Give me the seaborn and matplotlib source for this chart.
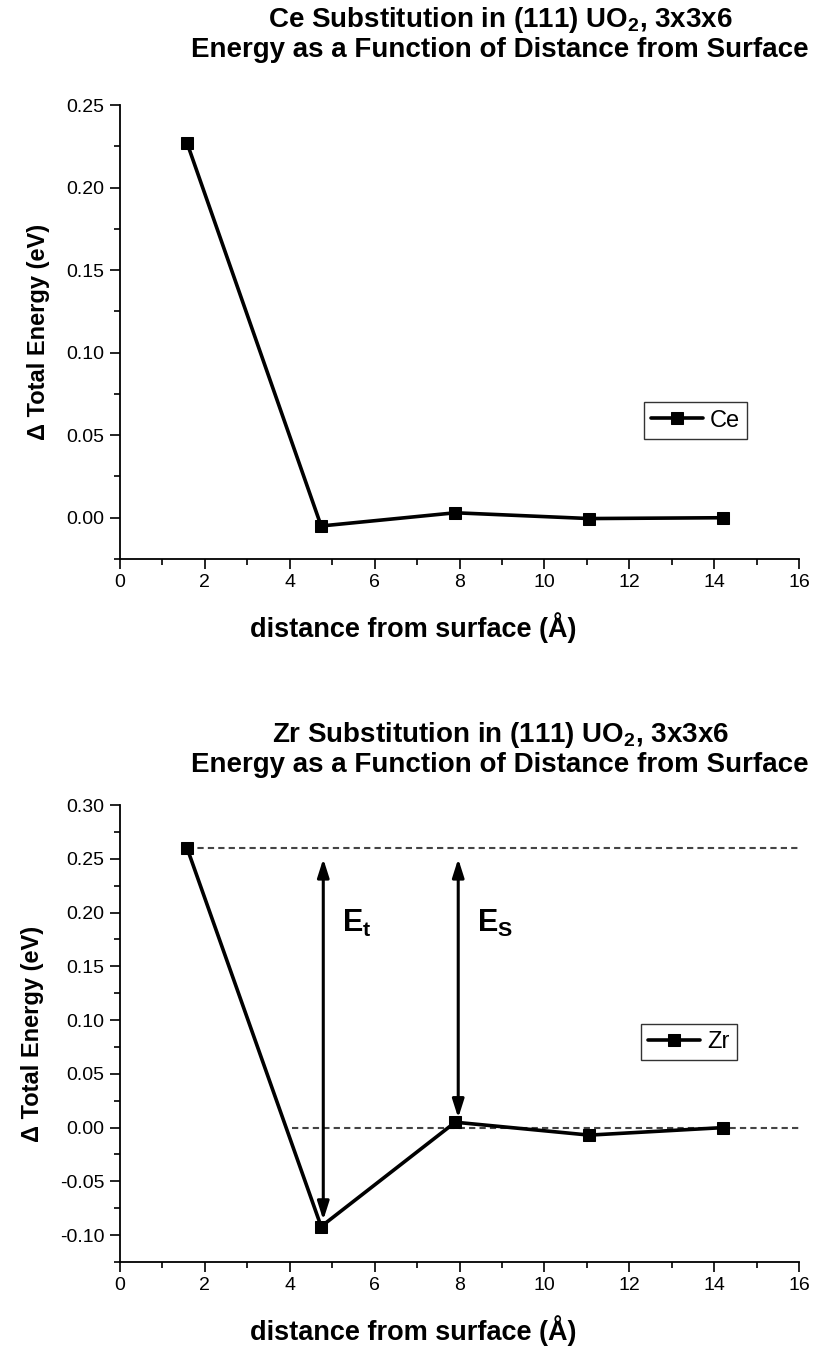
import numpy as np
import pandas as pd
import matplotlib
matplotlib.use("Agg")
import matplotlib.pyplot as plt
import seaborn as sns
from matplotlib.ticker import MultipleLocator

# ---- data ----
distance = [1.58, 4.74, 7.90, 11.06, 14.22]
ce_energy = [0.227, -0.005, 0.003, -0.0005, 0.0]
zr_energy = [0.260, -0.092, 0.005, -0.007, 0.000]

x_ticks = [0, 2, 4, 6, 8, 10, 12, 14, 16]
ce_yticks = [0.00, 0.05, 0.10, 0.15, 0.20, 0.25]
zr_yticks = [-0.10, -0.05, 0.00, 0.05, 0.10, 0.15, 0.20, 0.25, 0.30]

ce_title = [r"Ce Substitution in (111) UO$\mathbf{_2}$, 3x3x6",
            "Energy as a Function of Distance from Surface"]
zr_title = [r"Zr Substitution in (111) UO$\mathbf{_2}$, 3x3x6",
            "Energy as a Function of Distance from Surface"]
xlabel = "distance from surface (Å)"
ylabel = "Δ Total Energy (eV)"

# reference levels / arrows for Zr panel
zr_top_level = 0.260
zr_zero_level = 0.0
zr_zero_start = 4.06
arrow_t = dict(x=4.79, y0=0.250, y1=-0.086, label=r"$\mathbf{E_t}$")
arrow_s = dict(x=7.97, y0=0.250, y1=0.009, label=r"$\mathbf{E_S}$")

sns.set_style("ticks")
plt.rcParams["font.family"] = ["Liberation Sans", "DejaVu Sans"]
plt.rcParams["mathtext.fontset"] = "custom"
plt.rcParams["mathtext.rm"] = "Liberation Sans"
plt.rcParams["mathtext.bf"] = "Liberation Sans:bold"
plt.rcParams["mathtext.it"] = "Liberation Sans:italic"
plt.rcParams["text.color"] = "black"
plt.rcParams["axes.labelcolor"] = "black"
plt.rcParams["xtick.color"] = "black"
plt.rcParams["ytick.color"] = "black"

fig = plt.figure(figsize=(8.16, 13.51), dpi=100)
W, H = 816, 1351
ax1 = fig.add_axes([120 / W, 1 - 559 / H, 679 / W, 454 / H])
ax2 = fig.add_axes([120 / W, 1 - 1262 / H, 679 / W, 457 / H])

df_ce = pd.DataFrame({"d": distance, "E": ce_energy, "s": "Ce"})
df_zr = pd.DataFrame({"d": distance, "E": zr_energy, "s": "Zr"})


def style_axes(ax, yticks, ylim):
    ax.set_xlim(0, 16)
    ax.set_ylim(*ylim)
    ax.set_xticks(x_ticks)
    ax.set_yticks(yticks)
    ax.xaxis.set_minor_locator(MultipleLocator(1))
    ax.yaxis.set_minor_locator(MultipleLocator(0.025))
    ax.set_xticklabels([f"{t:d}" for t in x_ticks])
    ax.set_yticklabels([f"{t:.2f}" for t in yticks])
    for s in ["top", "right"]:
        ax.spines[s].set_visible(False)
    for s in ["left", "bottom"]:
        ax.spines[s].set_linewidth(1.3)
        ax.spines[s].set_color("black")
    ax.tick_params(which="major", direction="out", length=7, width=1.2,
                   labelsize=14, colors="black", pad=4)
    ax.tick_params(which="minor", direction="out", length=4, width=1.2)
    ax.set_xlabel("")
    ax.set_ylabel(ylabel, fontsize=17, fontweight="bold", labelpad=12)
    ax.set_facecolor("white")


sns.lineplot(data=df_ce, x="d", y="E", hue="s", palette=["black"], marker="s",
             markersize=8, linewidth=2.6, markeredgecolor="black", ax=ax1,
             clip_on=False)
sns.lineplot(data=df_zr, x="d", y="E", hue="s", palette=["black"], marker="s",
             markersize=8, linewidth=2.6, markeredgecolor="black", ax=ax2,
             clip_on=False, zorder=5)

style_axes(ax1, ce_yticks, (-0.025, 0.25))
style_axes(ax2, zr_yticks, (-0.125, 0.30))

# x labels (placed like the original, slightly left of centre)
fig.text(413 / W, 1 - 628 / H, xlabel, ha="center", va="center",
         fontsize=19.5, fontweight="bold")
fig.text(413 / W, 1 - 1331 / H, xlabel, ha="center", va="center",
         fontsize=19.5, fontweight="bold")

# dashed reference lines
ax2.plot([distance[0], 16], [zr_top_level, zr_top_level], ls=(0, (3, 2)),
         color="#444444", lw=1.5, zorder=2)
ax2.plot([zr_zero_start, 16], [zr_zero_level, zr_zero_level], ls=(0, (3, 2)),
         color="#444444", lw=1.5, zorder=2)

for a in (arrow_t, arrow_s):
    ax2.annotate("", xy=(a["x"], a["y1"]), xytext=(a["x"], a["y0"]),
                 arrowprops=dict(arrowstyle="<|-|>,head_length=1.1,head_width=0.35",
                                 color="black", lw=2.2, shrinkA=0, shrinkB=0))
ax2.text(arrow_t["x"] + 0.45, 0.182, arrow_t["label"], fontsize=22)
ax2.text(arrow_s["x"] + 0.45, 0.182, arrow_s["label"], fontsize=22)

for ax, cx, cy in ((ax1, 0.848, 0.305), (ax2, 0.838, 0.481)):
    leg = ax.legend(loc="center", bbox_to_anchor=(cx, cy), fontsize=17,
                    frameon=True, fancybox=False, shadow=False,
                    handlelength=2.2, handletextpad=0.3, borderpad=0.3,
                    borderaxespad=0, title=None)
    leg.get_frame().set_edgecolor("black")
    leg.get_frame().set_linewidth(1.0)

# titles
for lines, y1, y2 in ((ce_title, 20, 50), (zr_title, 735, 765)):
    fig.text(500 / W, 1 - y1 / H, lines[0], ha="center", va="center",
             fontsize=20, fontweight="bold")
    fig.text(500 / W, 1 - y2 / H, lines[1], ha="center", va="center",
             fontsize=20, fontweight="bold")

fig.savefig("out.png", dpi=100, facecolor="white")
